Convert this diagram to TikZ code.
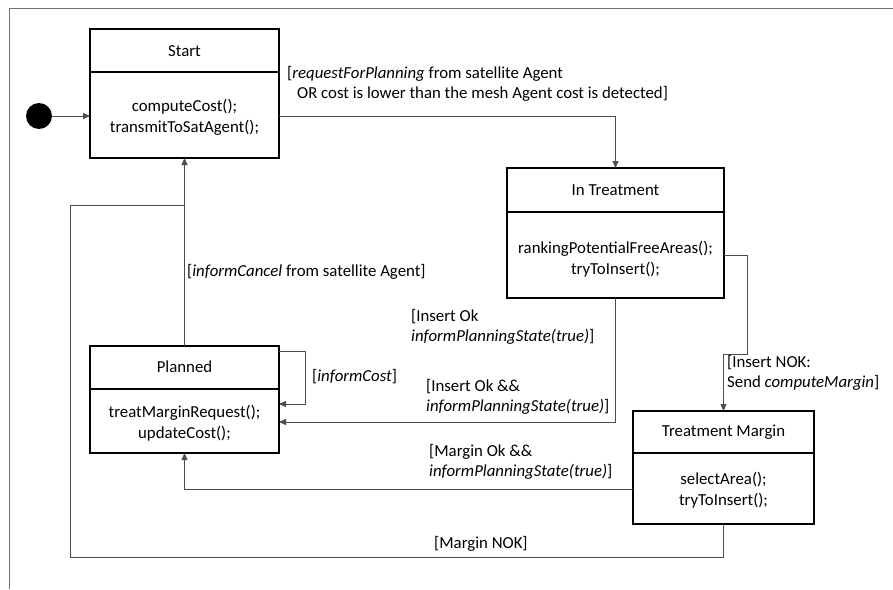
\documentclass[tikz,border=0pt]{standalone}
\usepackage{fontspec}
\setmainfont{Carlito}
\usetikzlibrary{arrows.meta}
\begin{document}
\begin{tikzpicture}[x=1pt,y=-1pt,
  state/.style={draw=black, line width=1.1pt, rectangle, inner sep=0pt, outer sep=0pt},
  txt/.style={font=\fontsize{16.8}{21}\selectfont, inner sep=0pt, align=center},
  lbl/.style={font=\fontsize{16.8}{20}\selectfont, inner sep=0pt, align=left, anchor=west},
  conn/.style={draw=black!70, line width=0.8pt},
  arr/.style={conn, -{Triangle[length=7pt,width=6pt]}},
  frame/.style={draw=black!55, line width=1pt},
  divider/.style={draw=black, line width=1.1pt}]
\useasboundingbox (0,0) rectangle (893,589);
\draw[frame] (9,589) -- (9,8) -- (893,8);

% states
\node[state, minimum width=189pt, minimum height=129pt] (start) at (184.5,93.5) {};
\draw[divider] ([yshift=-43pt]start.north west) -- ([yshift=-43pt]start.north east);
\node[txt] (startT) at (184.5,51) {Start};
\node[txt] (startB) at (184.5,117.5) {computeCost();\\transmitToSatAgent();};

\node[state, minimum width=217pt, minimum height=130pt] (intreat) at (615.5,233) {};
\draw[divider] ([yshift=-44pt]intreat.north west) -- ([yshift=-44pt]intreat.north east);
\node[txt] (intreatT) at (615.5,190) {In Treatment};
\node[txt] (intreatB) at (615.5,259.5) {rankingPotentialFreeAreas();\\tryToInsert();};

\node[state, minimum width=189pt, minimum height=107pt] (planned) at (184.5,399.5) {};
\draw[divider] ([yshift=-43pt]planned.north west) -- ([yshift=-43pt]planned.north east);
\node[txt] (plannedT) at (184.5,367) {Planned};
\node[txt] (plannedB) at (184.5,423) {treatMarginRequest();\\updateCost();};

\node[state, minimum width=181pt, minimum height=113pt] (tm) at (723.5,467.5) {};
\draw[divider] ([yshift=-42pt]tm.north west) -- ([yshift=-42pt]tm.north east);
\node[txt] (tmT) at (723.5,432.5) {Treatment Margin};
\node[txt] (tmB) at (723.5,490) {selectArea();\\tryToInsert();};

% initial
\node[circle, fill=black, minimum size=26pt, inner sep=0pt] (init) at (39,116) {};
\draw[arr] (init) -- (start.west |- init);

% start -> in treatment
\draw[arr] (start.east |- init) -| (intreat.north);
\node[lbl] (l1) at (287,83.5) {[\textit{requestForPlanning} from satellite Agent\\\hspace*{10pt}OR cost is lower than the mesh Agent cost is detected]};

% in treatment -> treatment margin
\coordinate (c1) at (747,255);
\coordinate (c2) at (747,354);
\coordinate (c3) at (723.5,354);
\draw[arr] (intreat.east |- c1) -- (c1) -- (c2) -- (c3) -- (tm.north);
\node[lbl] (l6) at (727,373) {[Insert NOK:\\Send \textit{computeMargin}]};

% in treatment -> planned
\coordinate (c4) at (615.5,422);
\draw[arr] (intreat.south) -- (c4) -- (planned.east |- c4);
\node[lbl] (l3) at (411,327) {[Insert Ok\\\textit{informPlanningState(true)}]};
\node[lbl] (l5) at (426,397) {[Insert Ok \&\&\\\textit{informPlanningState(true)}]};

% self loop
\coordinate (s1) at (305,351);
\coordinate (s2) at (305,404);
\draw[arr] (planned.east |- s1) -- (s1) -- (s2) -- (planned.east |- s2);
\node[lbl] (l4) at (312,377) {[\textit{informCost}]};

% planned -> start
\draw[arr] (planned.north) -- (start.south);
\node[lbl] (l2) at (187,272) {[\textit{informCancel} from satellite Agent]};

% treatment margin -> planned
\coordinate (m1) at (184.5,489);
\draw[arr] (tm.west |- m1) -- (m1) -- (planned.south);
\node[lbl] (l7) at (429,462) {[Margin Ok \&\&\\\textit{informPlanningState(true)}]};

% margin NOK
\coordinate (n1) at (723.5,557);
\coordinate (n2) at (70,557);
\coordinate (n3) at (70,205);
\coordinate (n4) at (184.5,205);
\draw[conn] (tm.south) -- (n1) -- (n2) -- (n3) -- (n4);
\node[lbl] (l8) at (434,544) {[Margin NOK]};
\end{tikzpicture}
\end{document}
